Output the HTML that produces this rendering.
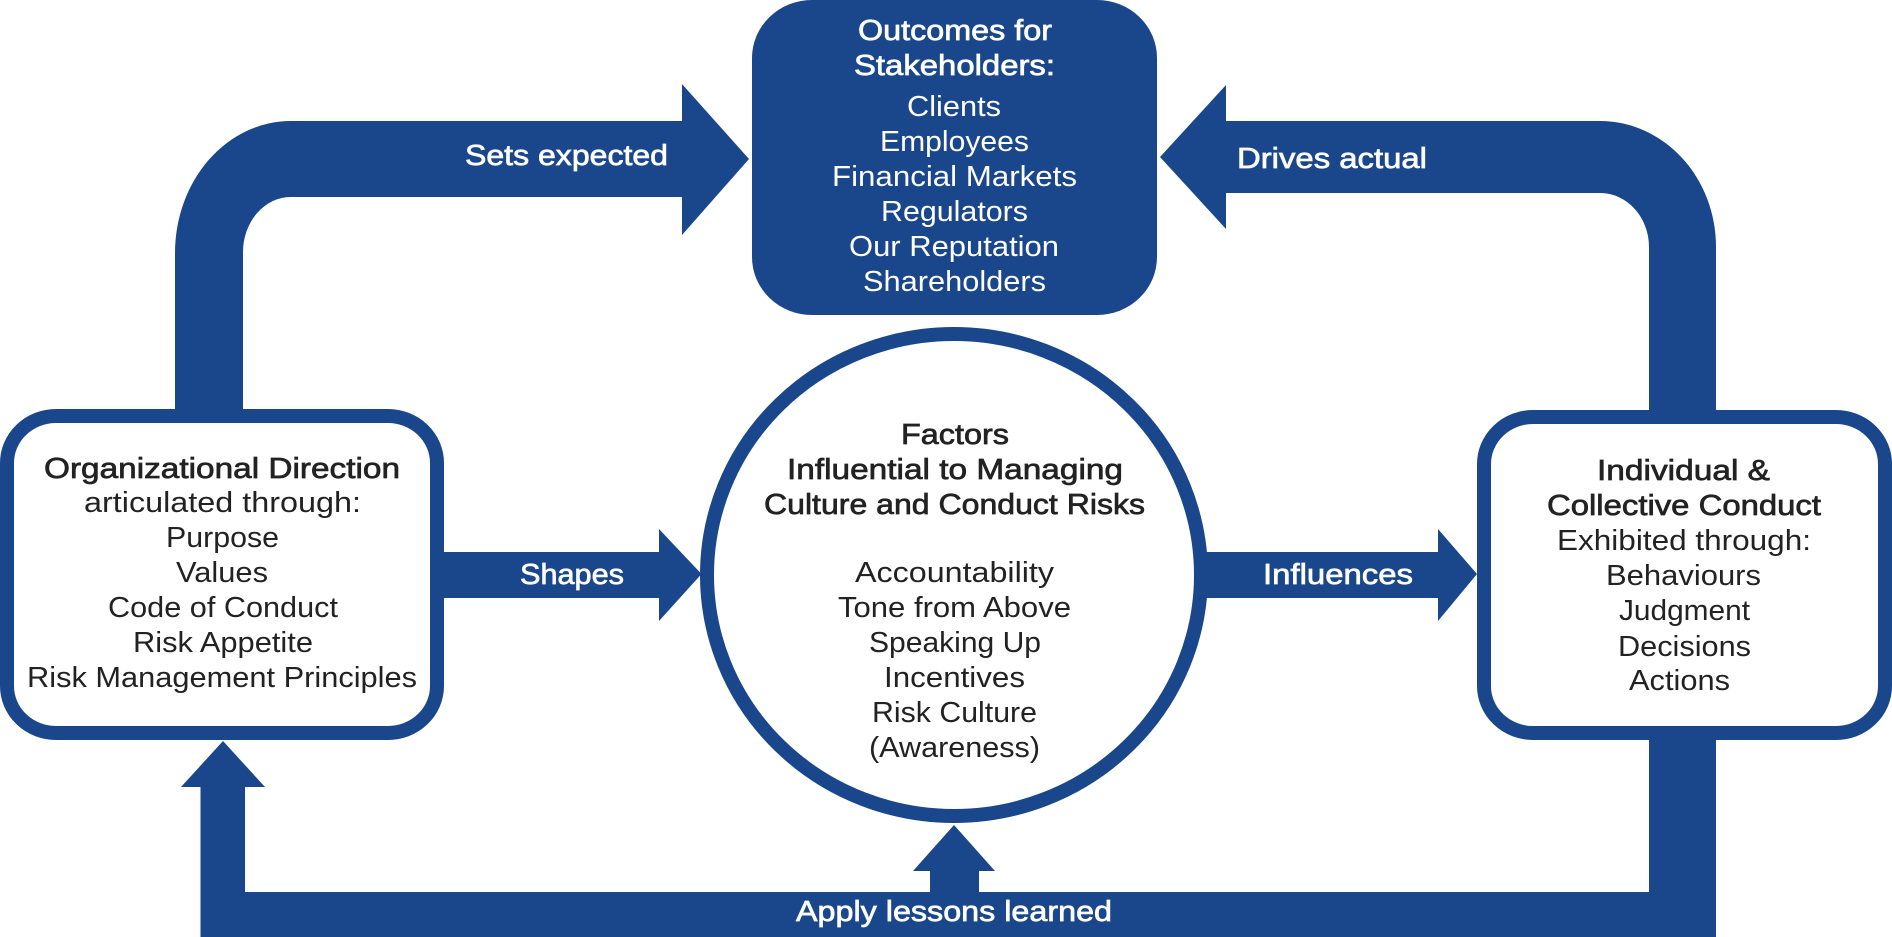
<!DOCTYPE html>
<html>
<head>
<meta charset="utf-8">
<style>
html,body{margin:0;padding:0;background:#fff;width:1892px;height:937px;overflow:hidden}
svg{display:block}
text{font-family:"Liberation Sans",sans-serif;font-size:29px;fill:#222}
.w{fill:#fff}
.b{stroke:#222;stroke-width:.7px}
.wb{fill:#fff;stroke:#fff;stroke-width:.7px}
</style>
</head>
<body>
<svg width="1892" height="937" viewBox="0 0 1892 937" xmlns="http://www.w3.org/2000/svg">
<rect width="1892" height="937" fill="#fff"/>
<g fill="#1a478c">
<path d="M175 412V253A116 132 0 0 1 291 121H682V84L749 159L682 235V197H291A48 55 0 0 0 243 252V412Z"/>
<path d="M1716 412V247A116 126 0 0 0 1600 121H1226V85L1160 157L1226 229V193H1600A49 54 0 0 1 1649 247V412Z"/>
<path d="M1716 738V937H200.5V787H181L223 741L265 787H245V892H930V871H913L954 825L995 871H979V892H1649V738Z"/>
<path d="M440 552H659V529L701.5 574L659 621V598H440Z"/>
<path d="M1200 552H1438V529L1477 574L1438 621V598H1200Z"/>
<rect x="752" y="0" width="405" height="315" rx="60" ry="58"/>
</g>
<ellipse cx="954" cy="575" rx="247" ry="241" fill="#fff" stroke="#1a478c" stroke-width="14"/>
<rect x="7" y="416" width="430" height="317" rx="49" ry="47" fill="#fff" stroke="#1a478c" stroke-width="14"/>
<rect x="1484" y="417" width="401" height="316" rx="49" ry="47" fill="#fff" stroke="#1a478c" stroke-width="14"/>

<text class="wb" x="465" y="165" textLength="203" lengthAdjust="spacingAndGlyphs">Sets expected</text>
<text class="wb" x="1237" y="168" textLength="190" lengthAdjust="spacingAndGlyphs">Drives actual</text>
<text class="wb" x="520" y="584" textLength="104" lengthAdjust="spacingAndGlyphs">Shapes</text>
<text class="wb" x="1263" y="584" textLength="150" lengthAdjust="spacingAndGlyphs">Influences</text>
<text class="wb" x="796" y="921" textLength="316" lengthAdjust="spacingAndGlyphs">Apply lessons learned</text>

<text class="wb" x="858" y="40" textLength="194" lengthAdjust="spacingAndGlyphs">Outcomes for</text>
<text class="wb" x="854" y="75" textLength="201" lengthAdjust="spacingAndGlyphs">Stakeholders:</text>
<text class="w" x="907" y="116" textLength="94" lengthAdjust="spacingAndGlyphs">Clients</text>
<text class="w" x="880" y="151" textLength="149" lengthAdjust="spacingAndGlyphs">Employees</text>
<text class="w" x="832" y="186" textLength="245" lengthAdjust="spacingAndGlyphs">Financial Markets</text>
<text class="w" x="881" y="221" textLength="147" lengthAdjust="spacingAndGlyphs">Regulators</text>
<text class="w" x="849" y="256" textLength="210" lengthAdjust="spacingAndGlyphs">Our Reputation</text>
<text class="w" x="863" y="291" textLength="183" lengthAdjust="spacingAndGlyphs">Shareholders</text>

<text class="b" x="44" y="478" textLength="356" lengthAdjust="spacingAndGlyphs">Organizational Direction</text>
<text x="84" y="512" textLength="277" lengthAdjust="spacingAndGlyphs">articulated through:</text>
<text x="166" y="547" textLength="113" lengthAdjust="spacingAndGlyphs">Purpose</text>
<text x="176" y="582" textLength="92" lengthAdjust="spacingAndGlyphs">Values</text>
<text x="108" y="617" textLength="230" lengthAdjust="spacingAndGlyphs">Code of Conduct</text>
<text x="133" y="652" textLength="180" lengthAdjust="spacingAndGlyphs">Risk Appetite</text>
<text x="27" y="687" textLength="390" lengthAdjust="spacingAndGlyphs">Risk Management Principles</text>

<text class="b" x="901" y="444" textLength="108" lengthAdjust="spacingAndGlyphs">Factors</text>
<text class="b" x="787" y="479" textLength="336" lengthAdjust="spacingAndGlyphs">Influential to Managing</text>
<text class="b" x="764" y="514" textLength="381" lengthAdjust="spacingAndGlyphs">Culture and Conduct Risks</text>
<text x="855" y="582" textLength="199" lengthAdjust="spacingAndGlyphs">Accountability</text>
<text x="838" y="617" textLength="233" lengthAdjust="spacingAndGlyphs">Tone from Above</text>
<text x="869" y="652" textLength="172" lengthAdjust="spacingAndGlyphs">Speaking Up</text>
<text x="884" y="687" textLength="141" lengthAdjust="spacingAndGlyphs">Incentives</text>
<text x="872" y="722" textLength="165" lengthAdjust="spacingAndGlyphs">Risk Culture</text>
<text x="869" y="757" textLength="171" lengthAdjust="spacingAndGlyphs">(Awareness)</text>

<text class="b" x="1597" y="480" textLength="173" lengthAdjust="spacingAndGlyphs">Individual &amp;</text>
<text class="b" x="1547" y="515" textLength="274" lengthAdjust="spacingAndGlyphs">Collective Conduct</text>
<text x="1557" y="550" textLength="254" lengthAdjust="spacingAndGlyphs">Exhibited through:</text>
<text x="1606" y="585" textLength="155" lengthAdjust="spacingAndGlyphs">Behaviours</text>
<text x="1619" y="620" textLength="131" lengthAdjust="spacingAndGlyphs">Judgment</text>
<text x="1618" y="656" textLength="133" lengthAdjust="spacingAndGlyphs">Decisions</text>
<text x="1629" y="690" textLength="101" lengthAdjust="spacingAndGlyphs">Actions</text>
</svg>
</body>
</html>
